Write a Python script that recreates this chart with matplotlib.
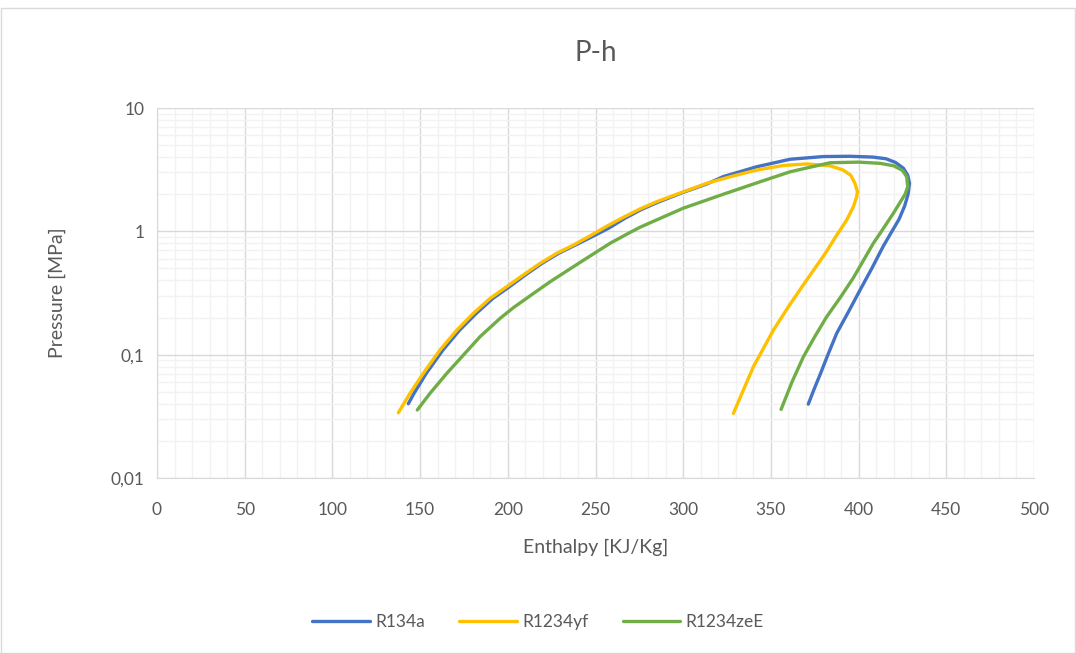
import matplotlib
matplotlib.use('Agg')
import matplotlib.pyplot as plt
from matplotlib.patches import Rectangle
from matplotlib.ticker import FixedLocator, NullFormatter

plt.rcParams['font.family'] = ['Lato', 'DejaVu Sans']

# saturation dome points: enthalpy [kJ/kg], pressure [MPa]
h_r134a = [143.3, 146.5, 153.5, 163.0, 172.5, 182.0, 191.5, 201.0, 210.0, 219.5,
           229.0, 238.5, 248.0, 257.5, 266.5, 276.0, 285.5, 300.0, 313.4, 322.9,
           341.9, 360.9, 379.9, 395.0, 408.0, 415.5, 421.0, 425.5, 428.0, 429.0,
           428.2, 426.2, 423.0, 419.0, 414.1, 407.5, 400.8, 394.0, 387.5, 382.5,
           378.3, 374.5, 371.3]
p_r134a = [0.040, 0.0485, 0.0705, 0.109, 0.158, 0.216, 0.286, 0.356, 0.443, 0.550,
           0.664, 0.774, 0.904, 1.06, 1.27, 1.50, 1.72, 2.07, 2.42, 2.78,
           3.34, 3.84, 4.04, 4.06, 4.0, 3.88, 3.62, 3.25, 2.85, 2.45,
           2.0, 1.6, 1.25, 1.0, 0.76, 0.50, 0.334, 0.22, 0.149, 0.10,
           0.0705, 0.052, 0.0397]

h_r1234yf = [137.6, 144.2, 151.8, 161.3, 170.9, 180.3, 189.9, 199.4, 208.8, 218.4,
             227.9, 237.4, 246.9, 256.4, 265.9, 275.4, 284.9, 300.0, 313.4, 326.7,
             341.9, 357.1, 370.4, 383.7, 391.0, 395.5, 397.9, 399.3, 398.9, 397.0,
             393.2, 387.5, 381.5, 375.0, 368.0, 360.0, 351.4, 340.0, 328.6]
p_r1234yf = [0.0338, 0.0485, 0.0705, 0.109, 0.158, 0.216, 0.286, 0.356, 0.443, 0.550,
             0.664, 0.774, 0.92, 1.10, 1.30, 1.52, 1.74, 2.09, 2.45, 2.77,
             3.14, 3.42, 3.52, 3.40, 3.15, 2.85, 2.45, 2.10, 1.91, 1.58,
             1.235, 0.93, 0.68, 0.50, 0.36, 0.245, 0.158, 0.0798, 0.0334]

h_r1234ze = [148.4, 155.6, 165.2, 174.6, 184.2, 195.6, 203.1, 212.7, 224.1, 241.2,
             258.3, 269.7, 275.4, 300.0, 322.9, 341.9, 360.9, 383.7, 400.0, 412.2,
             420.0, 425.0, 427.4, 428.0, 426.5, 424.0, 419.8, 413.0, 408.4, 397.0,
             389.5, 381.8, 375.0, 368.5, 362.0, 355.8]
p_r1234ze = [0.0356, 0.0485, 0.0705, 0.099, 0.14, 0.197, 0.24, 0.30, 0.39, 0.56,
             0.80, 0.98, 1.08, 1.54, 2.0, 2.47, 3.04, 3.60, 3.64, 3.56,
             3.40, 3.12, 2.77, 2.30, 2.0, 1.75, 1.40, 1.0, 0.80, 0.42,
             0.29, 0.203, 0.14, 0.096, 0.06, 0.036]

x_ticks = [0, 50, 100, 150, 200, 250, 300, 350, 400, 450, 500]
y_ticks = [0.01, 0.1, 1, 10]
y_tick_labels = ['0,01', '0,1', '1', '10']

txt = '#595959'

fig = plt.figure(figsize=(10.76, 6.53), dpi=100)
ax = fig.add_axes([0.1459, 0.268, 0.8151, 0.5666])

fig.patches.append(Rectangle((0.5 / 1076, 0.5 / 653), 1 - 1.5 / 1076, 1 - 8 / 653,
                             transform=fig.transFigure, fill=False,
                             edgecolor='#d9d9d9', linewidth=1))

ax.plot(h_r134a, p_r134a, color='#4472C4', lw=2.4, label='R134a',
        solid_capstyle='round', solid_joinstyle='round')
ax.plot(h_r1234yf, p_r1234yf, color='#FFC000', lw=2.4, label='R1234yf',
        solid_capstyle='round', solid_joinstyle='round')
ax.plot(h_r1234ze, p_r1234ze, color='#70AD47', lw=2.4, label='R1234zeE',
        solid_capstyle='round', solid_joinstyle='round')

ax.set_yscale('log')
ax.set_xlim(0, 500)
ax.set_ylim(0.01, 10)
ax.set_xticks(x_ticks)
ax.xaxis.set_minor_locator(FixedLocator(range(0, 501, 10)))
ax.set_yticks(y_ticks)
ax.set_yticklabels(y_tick_labels)
minors = [m * 10 ** e for e in (-2, -1, 0) for m in range(2, 10)]
ax.yaxis.set_minor_locator(FixedLocator(minors))
ax.yaxis.set_minor_formatter(NullFormatter())

ax.grid(which='major', color='#d9d9d9', lw=1.0)
ax.grid(which='minor', color='#f2f2f2', lw=1.0)
ax.set_axisbelow(True)
for s in ['top', 'right']:
    ax.spines[s].set_visible(False)
ax.spines['left'].set_color('#d9d9d9')
ax.spines['bottom'].set_color('#d9d9d9')
ax.tick_params(which='both', length=0, labelsize=12.5, colors=txt)
ax.tick_params(axis='x', pad=17)
ax.tick_params(axis='y', pad=9)

ax.set_title('P-h', fontsize=20, color=txt, pad=34)
ax.set_xlabel('Enthalpy [KJ/Kg]', fontsize=14, color=txt, labelpad=15)
ax.set_ylabel('Pressure [MPa]', fontsize=14, color=txt, labelpad=32)

fig.legend(loc='center', bbox_to_anchor=(0.5, 1 - 622 / 653), ncol=3, frameon=False,
           fontsize=12.5, handlelength=3.3, columnspacing=2.0, handletextpad=0.3,
           labelcolor=txt)

fig.savefig('out.png', dpi=100)
